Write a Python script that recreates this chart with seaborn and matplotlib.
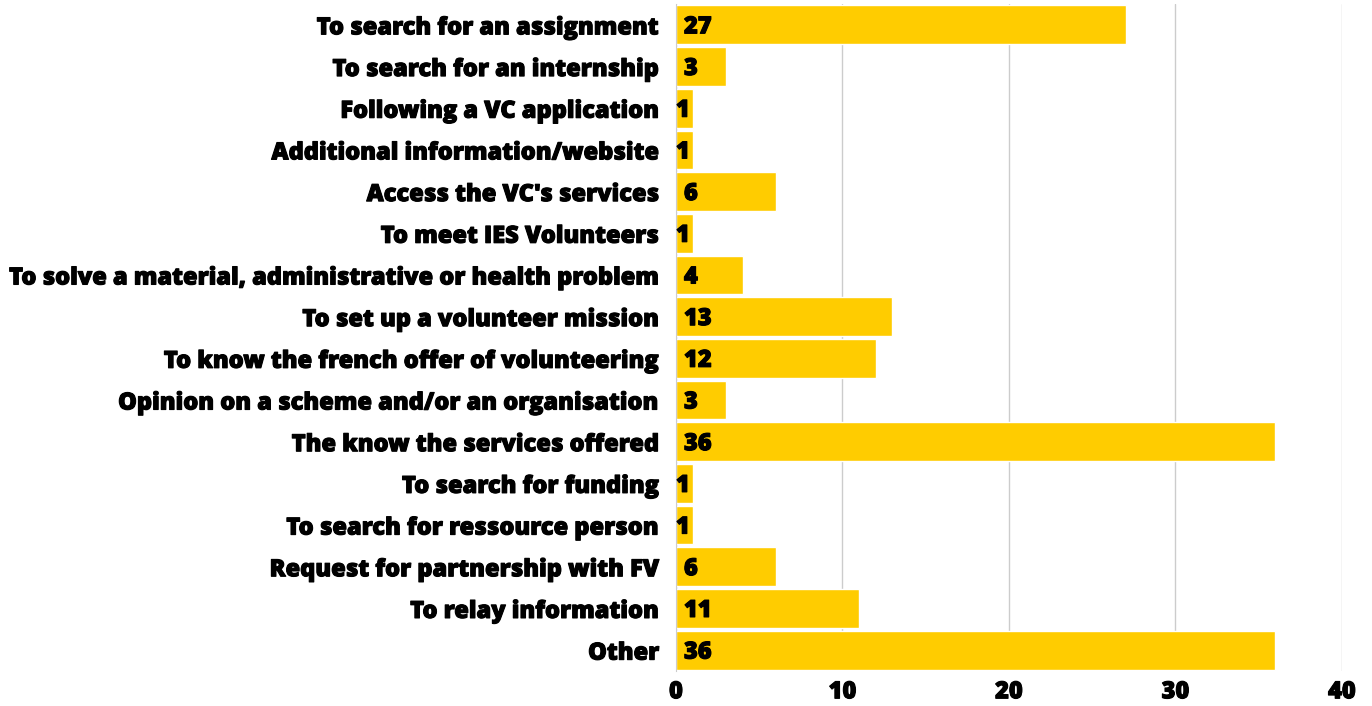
import matplotlib
matplotlib.use("Agg")
import matplotlib.pyplot as plt
import matplotlib.patheffects as pe
import seaborn as sns
import pandas as pd

categories = [
    "To search for an assignment",
    "To search for an internship",
    "Following a VC application",
    "Additional information/website",
    "Access the VC's services",
    "To meet IES Volunteers",
    "To solve a material, administrative or health problem",
    "To set up a volunteer mission",
    "To know the french offer of volunteering",
    "Opinion on a scheme and/or an organisation",
    "The know the services offered",
    "To search for funding",
    "To search for ressource person",
    "Request for partnership with FV",
    "To relay information",
    "Other",
]
counts = [27, 3, 1, 1, 6, 1, 4, 13, 12, 3, 36, 1, 1, 6, 11, 36]
x_ticks = [0, 10, 20, 30, 40]

df = pd.DataFrame({"reason": categories, "count": counts})

sns.set_style("white")
plt.rcParams["font.family"] = ["Open Sans", "DejaVu Sans"]
plt.rcParams["text.color"] = "black"
plt.rcParams["xtick.color"] = "black"
plt.rcParams["ytick.color"] = "black"

fig = plt.figure(figsize=(13.72, 7.06), dpi=100)
ax = fig.add_axes([0.4927, 0.0496, 0.4854, 0.9447])

sns.barplot(data=df, y="reason", x="count", color="#FFCC00", saturation=1,
            width=0.93, orient="h", ax=ax, zorder=2)

ax.set_xlim(0, 40)
ax.set_xticks(x_ticks)
ax.set_xlabel("")
ax.set_ylabel("")
ax.grid(axis="x", color="#cccccc", linewidth=1, zorder=0)
ax.set_axisbelow(True)
for s in ["top", "right", "bottom"]:
    ax.spines[s].set_visible(False)
ax.spines["left"].set_color("#cccccc")
ax.tick_params(axis="both", length=0)
ax.tick_params(axis="y", pad=12)
ax.tick_params(axis="x", pad=6)

# heavier look, the reference uses an extra-bold face
thick = [pe.withStroke(linewidth=0.8, foreground="black")]
for lab in ax.get_yticklabels() + ax.get_xticklabels():
    lab.set_fontsize(17)
    lab.set_fontweight("heavy")
    lab.set_color("black")
    lab.set_path_effects(thick)

for i, v in enumerate(counts):
    off = 0 if v == 1 else 8
    ax.annotate(str(v), xy=(0, i), xytext=(off, -2), textcoords="offset pixels",
                ha="left", va="center", fontsize=17, fontweight="heavy",
                color="black", zorder=3, path_effects=thick)

fig.savefig("out.png", dpi=100)
